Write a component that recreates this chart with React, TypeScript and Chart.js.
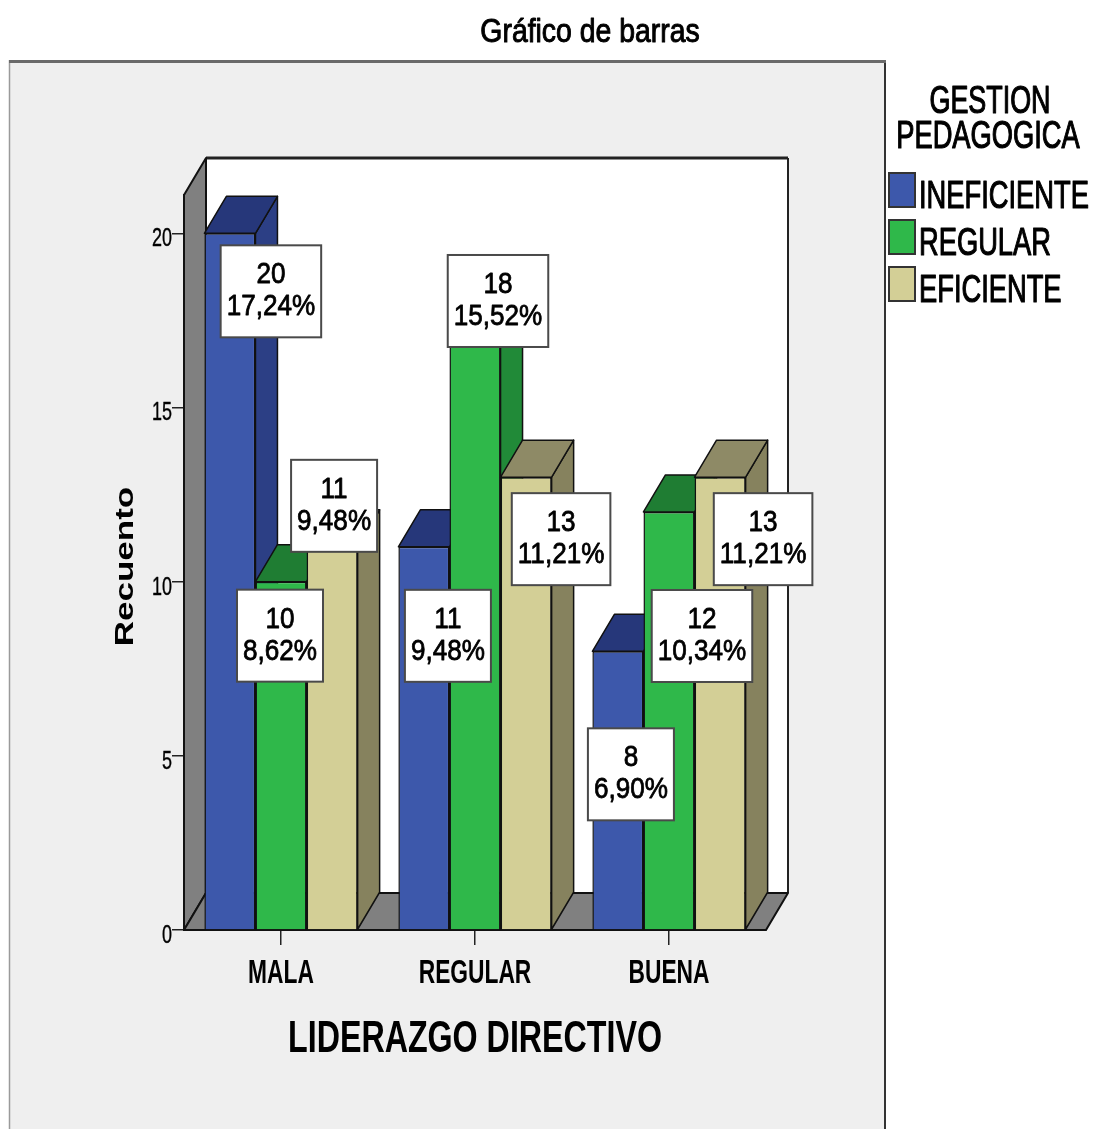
import React, { useEffect, useRef } from "react";
import { Chart, registerables } from "chart.js";

Chart.register(...registerables);

const W = 1096;
const H = 1129;

// ---- data ----
const CATEGORIES = ["MALA", "REGULAR", "BUENA"];
const SERIES_NAMES = ["INEFICIENTE", "REGULAR", "EFICIENTE"];
const INEFICIENTE = [20, 11, 8];
const REGULAR_SERIES = [10, 18, 12];
const EFICIENTE = [11, 13, 13];
const Y_TICKS = [0, 5, 10, 15, 20];
const TITLE = "Gráfico de barras";
const LEGEND_TITLE = ["GESTION", "PEDAGOGICA"];
const X_TITLE = "LIDERAZGO DIRECTIVO";
const Y_TITLE = "Recuento";

// ---- style ----
const FRONT = ["#3d58ab", "#2fb84a", "#d3cf96"];
const SIDE = ["#2c3f85", "#218a38", "#86825e"];
const TOP = ["#26377a", "#1f7d33", "#8e8a66"];
const DX = 22;
const DY = 37;
const FONT = '"Liberation Sans", Arial, Helvetica, sans-serif';
// label box placement relative to the bar's front-top centre (px)
const LABEL_SHIFT = [
  [[41, 12], [24, 43], [13, 77]],
  [[-1, 8], [23, -48], [33, 78]],
  [[2, -87], [35, 16], [43, 16]],
];

function txt(ctx: CanvasRenderingContext2D, s: string, x: number, y: number, size: number, bold: boolean, sx: number, align: CanvasTextAlign = "center", heavy = 0) {
  ctx.save();
  ctx.translate(x, y);
  ctx.scale(sx, 1);
  ctx.font = `${bold ? "bold " : ""}${size}px ${FONT}`;
  ctx.textAlign = align;
  ctx.textBaseline = "alphabetic";
  ctx.fillStyle = "#000";
  ctx.fillText(s, 0, 0);
  if (heavy > 0) {
    ctx.strokeStyle = "#000";
    ctx.lineWidth = heavy;
    ctx.lineJoin = "round";
    ctx.strokeText(s, 0, 0);
  }
  ctx.restore();
}

function poly(ctx: CanvasRenderingContext2D, pts: number[][], fill: string, stroke = "#111", lw = 1.5) {
  ctx.beginPath();
  ctx.moveTo(pts[0][0], pts[0][1]);
  for (let i = 1; i < pts.length; i++) ctx.lineTo(pts[i][0], pts[i][1]);
  ctx.closePath();
  ctx.fillStyle = fill;
  ctx.fill();
  ctx.lineWidth = lw;
  ctx.strokeStyle = stroke;
  ctx.lineJoin = "round";
  ctx.stroke();
}

const spssPlugin = {
  id: "spss3d",
  beforeDraw(chart: any) {
    const { ctx, chartArea: ca } = chart;
    const L = ca.left, R = ca.right, T = ca.top, B = ca.bottom;
    ctx.save();
    ctx.fillStyle = "#ffffff";
    ctx.fillRect(0, 0, W, H);
    // panel
    ctx.fillStyle = "#efefef";
    ctx.fillRect(9, 60, 876, H - 60);
    ctx.strokeStyle = "#9a9a9a";
    ctx.lineWidth = 1.5;
    ctx.beginPath(); ctx.moveTo(9.5, 60); ctx.lineTo(9.5, H); ctx.stroke();
    ctx.strokeStyle = "#333";
    ctx.lineWidth = 2;
    ctx.beginPath(); ctx.moveTo(885, 60); ctx.lineTo(885, H); ctx.stroke();
    ctx.strokeStyle = "#6a6a6a";
    ctx.lineWidth = 3;
    ctx.beginPath(); ctx.moveTo(9, 61.5); ctx.lineTo(886, 61.5); ctx.stroke();
    // title
    txt(ctx, TITLE, 590, 42, 33, false, 0.86, "center", 1);
    // back wall
    ctx.fillStyle = "#ffffff";
    ctx.fillRect(L + DX, T - DY, R - L, B - T);
    ctx.strokeStyle = "#222";
    ctx.lineWidth = 3;
    ctx.beginPath(); ctx.moveTo(L + DX, T - DY); ctx.lineTo(R + DX, T - DY); ctx.stroke();
    ctx.lineWidth = 2;
    ctx.beginPath(); ctx.moveTo(R + DX, T - DY); ctx.lineTo(R + DX, B - DY); ctx.stroke();
    // left wall
    poly(ctx, [[L, T], [L + DX, T - DY], [L + DX, B - DY], [L, B]], "#808080", "#111", 2);
    // floor
    poly(ctx, [[L, B], [L + DX, B - DY], [R + DX, B - DY], [R, B]], "#808080", "#111", 2);
    ctx.restore();
  },
  beforeDatasetsDraw(chart: any) {
    const { ctx } = chart;
    ctx.save();
    const n = CATEGORIES.length;
    for (let i = 0; i < n; i++) {
      for (let d = 0; d < chart.data.datasets.length; d++) {
        const el = chart.getDatasetMeta(d).data[i];
        const left = el.x - el.width / 2;
        const right = el.x + el.width / 2;
        const y = el.y, base = el.base;
        poly(ctx, [[right, y], [right + DX, y - DY], [right + DX, base - DY], [right, base]], SIDE[d]);
        poly(ctx, [[left, y], [left + DX, y - DY], [right + DX, y - DY], [right, y]], TOP[d]);
      }
    }
    ctx.restore();
  },
  afterDatasetsDraw(chart: any) {
    const { ctx } = chart;
    const datasets = chart.data.datasets;
    let total = 0;
    datasets.forEach((ds: any) => ds.data.forEach((v: number) => (total += v)));
    ctx.save();
    const size = 29, sx = 0.9;
    for (let d = 0; d < datasets.length; d++) {
      const meta = chart.getDatasetMeta(d);
      datasets[d].data.forEach((v: number, i: number) => {
        const el = meta.data[i];
        const [ox, oy] = LABEL_SHIFT[d][i];
        const l1 = String(v);
        const l2 = ((v / total) * 100).toFixed(2).replace(".", ",") + "%";
        ctx.font = `${size}px ${FONT}`;
        const tw = Math.max(ctx.measureText(l1).width, ctx.measureText(l2).width) * sx;
        const bw = tw + 12;
        const bh = 92;
        const cx = el.x + ox;
        const top = el.y + oy;
        ctx.fillStyle = "#fff";
        ctx.fillRect(cx - bw / 2, top, bw, bh);
        ctx.strokeStyle = "#4a4a4a";
        ctx.lineWidth = 2;
        ctx.strokeRect(cx - bw / 2, top, bw, bh);
        txt(ctx, l1, cx, top + 38, size, false, sx, "center", 0.8);
        txt(ctx, l2, cx, top + 70, size, false, sx, "center", 0.8);
      });
    }
    ctx.restore();
  },
  afterDraw(chart: any) {
    const { ctx, chartArea: ca } = chart;
    const xs = chart.scales.x, ys = chart.scales.y;
    ctx.save();
    // y tick labels
    ys.ticks.forEach((t: any) => {
      const y = ys.getPixelForValue(t.value);
      txt(ctx, String(t.value), ca.left - 12, y + 13, 26, false, 0.69, "right", 0.4);
    });
    // x category labels
    xs.getLabels().forEach((lab: string, i: number) => {
      const x = xs.getPixelForValue(i);
      txt(ctx, lab, x, 983, 33, true, 0.69);
    });
    // axis titles
    txt(ctx, X_TITLE, (ca.left + ca.right) / 2, 1052, 44, true, 0.732);
    ctx.save();
    ctx.translate(133, (ca.top + ca.bottom) / 2 + 4);
    ctx.rotate(-Math.PI / 2);
    txt(ctx, Y_TITLE, 0, 0, 25, true, 1.4);
    ctx.restore();
    // legend
    txt(ctx, LEGEND_TITLE[0], 990, 113, 39, false, 0.69, "center", 1.2);
    txt(ctx, LEGEND_TITLE[1], 988, 148, 39, false, 0.7, "center", 1.2);
    chart.data.datasets.forEach((ds: any, k: number) => {
      const top = 173 + k * 47;
      ctx.fillStyle = ds.backgroundColor;
      ctx.fillRect(889, top, 26, 34);
      ctx.strokeStyle = "#333";
      ctx.lineWidth = 2;
      ctx.strokeRect(889, top, 26, 34);
      txt(ctx, ds.label, 919, top + 35, 39, false, 0.7, "left", 1.2);
    });
    ctx.restore();
  },
};

export default function App() {
  const ref = useRef<HTMLCanvasElement>(null);
  useEffect(() => {
    const seriesValues = [INEFICIENTE, REGULAR_SERIES, EFICIENTE];
    const chart = new Chart(ref.current as HTMLCanvasElement, {
      type: "bar",
      data: {
        labels: CATEGORIES,
        datasets: seriesValues.map((vals, k) => ({
          label: SERIES_NAMES[k],
          data: vals,
          backgroundColor: FRONT[k],
          borderColor: "#111",
          borderWidth: 1.5,
          barPercentage: 1,
          categoryPercentage: 0.79,
        })),
      },
      options: {
        responsive: false,
        animation: false,
        devicePixelRatio: 1,
        layout: { padding: { top: 195, right: W - 766, bottom: 0, left: 0 } },
        plugins: { legend: { display: false }, title: { display: false }, tooltip: { enabled: false } },
        scales: {
          x: {
            type: "category",
            offset: true,
            grid: { display: true, drawOnChartArea: false, drawTicks: true, tickLength: 15, offset: false, color: "#222", lineWidth: 1.5 },
            border: { display: true, color: "#111", width: 2 },
            ticks: { display: false },
            afterFit: (s: any) => { s.height = H - 930; },
          },
          y: {
            type: "linear",
            min: 0,
            max: 21.1,
            afterBuildTicks: (s: any) => { s.ticks = Y_TICKS.map((v) => ({ value: v })); },
            grid: { display: true, drawOnChartArea: false, drawTicks: true, tickLength: 12, color: "#222", lineWidth: 1.5 },
            border: { display: true, color: "#111", width: 2 },
            ticks: { display: false },
            afterFit: (s: any) => { s.width = 184; },
          },
        },
      } as any,
      plugins: [spssPlugin],
    });
    return () => chart.destroy();
  }, []);
  return (
    <div style={{ position: "absolute", left: 0, top: 0, width: W, height: H }}>
      <canvas ref={ref} width={W} height={H} style={{ display: "block", width: W, height: H }} />
    </div>
  );
}
